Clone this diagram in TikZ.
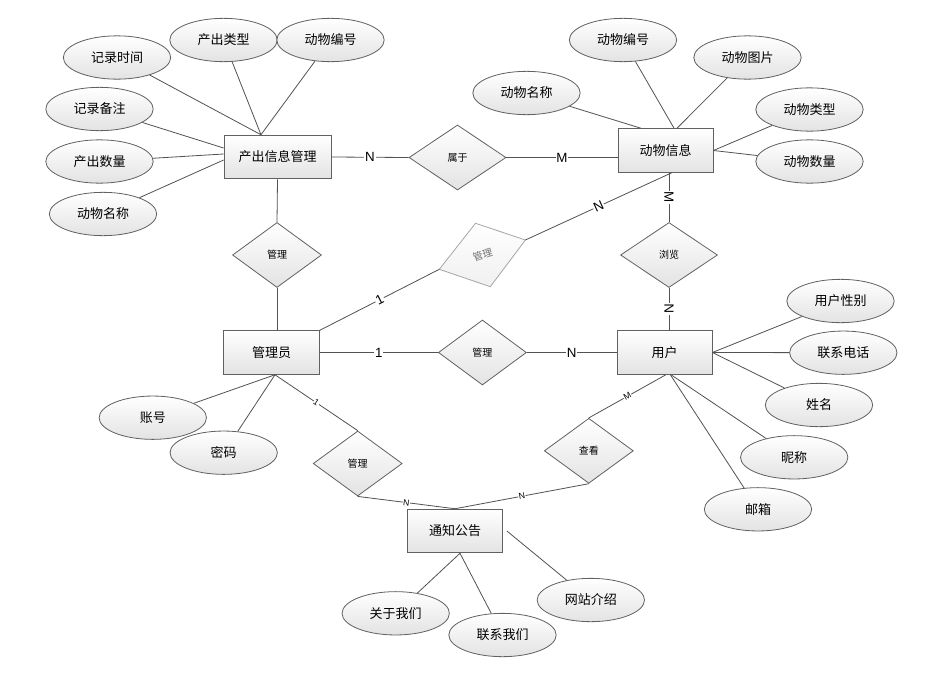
\documentclass[tikz,border=0pt]{standalone}
\usepackage{fontspec}
\setmainfont{Liberation Sans}
\newfontfamily\cjk{Noto Sans CJK SC}
\usetikzlibrary{shapes.geometric,shadows}
\begin{document}
\begin{tikzpicture}[x=0.75pt,y=-0.75pt,
 base/.style={draw=black!62, line width=0.6pt, top color=white, bottom color=black!11, inner sep=0pt},
 attr/.style={base, ellipse, minimum width=80.5pt, minimum height=32.5pt, font=\cjk\fontsize{9.75}{11}\selectfont},
 ent/.style={base, rectangle, minimum height=32.8pt, font=\cjk\fontsize{9.75}{11}\selectfont},
 rel/.style={base, diamond, minimum height=48.75pt, font=\cjk\fontsize{7.5}{9}\selectfont},
 conn/.style={draw=black!68, line width=0.6pt},
 lbl/.style={fill=white, inner sep=0.6pt, font=\fontsize{10}{10}\selectfont},
 slbl/.style={fill=white, inner sep=0.4pt, font=\fontsize{6.5}{7}\selectfont}]
\useasboundingbox[fill=white] (0,0) rectangle (930,678);

% entities
\node[ent, minimum width=80.25pt] (cx) at (277.5,157) {产出信息管理};
\node[ent, minimum width=71.25pt] (dw) at (665.5,150.5) {动物信息};
\node[ent, minimum width=72pt] (gly) at (271.5,352.5) {管理员};
\node[ent, minimum width=71.25pt] (yh) at (664.5,352.5) {用户};
\node[ent, minimum width=71.25pt] (tz) at (455,531) {通知公告};

% relationships
\node[rel, minimum width=72.75pt] (sy) at (457.5,157.5) {属于};
\node[rel, minimum width=66.75pt] (gl1) at (277,255) {管理};
\node[rel, minimum width=72.75pt] (ll) at (669,255) {浏览};
\node[rel, minimum width=66pt] (gl3) at (482.4,352.5) {管理};
\node[rel, minimum width=66.75pt] (gl4) at (357.7,463.5) {管理};
\node[rel, minimum width=66.75pt] (ck) at (588.8,450.8) {查看};

% rotated relationship
\coordinate (g2l) at (439.3,269.3);
\coordinate (g2t) at (475.5,223.3);
\coordinate (g2r) at (525.4,240);
\coordinate (g2b) at (490.3,286.7);
\draw[draw=black!35, line width=0.6pt, top color=white, bottom color=black!6] (g2l) -- (g2t) -- (g2r) -- (g2b) -- cycle;
\node[rotate=18, text=black!55, font=\cjk\fontsize{7.5}{9}\selectfont] (gl2) at (482.6,255) {管理};

% attributes
\node[attr] (jlsj) at (117,57.5) {记录时间};
\node[attr] (cclx) at (223.5,40) {产出类型};
\node[attr] (dwbh1) at (330.5,40) {动物编号};
\node[attr] (jlbz) at (99.5,109) {记录备注};
\node[attr] (ccsl) at (99.5,161.5) {产出数量};
\node[attr] (dwmc1) at (103,214) {动物名称};
\node[attr] (dwbh2) at (623,40) {动物编号};
\node[attr] (dwtp) at (747.5,57.5) {动物图片};
\node[attr] (dwmc2) at (526.5,93) {动物名称};
\node[attr] (dwlx) at (809.5,109.5) {动物类型};
\node[attr] (dwsl) at (809.5,161.5) {动物数量};
\node[attr] (yhxb) at (840.5,301) {用户性别};
\node[attr] (lxdh) at (843.3,352.7) {联系电话};
\node[attr] (xm) at (819,405) {姓名};
\node[attr] (nc) at (794.2,457.3) {昵称};
\node[attr] (yx) at (758,509.3) {邮箱};
\node[attr] (zh) at (152.8,417.7) {账号};
\node[attr] (mm) at (223.7,452.7) {密码};
\node[attr] (gywm) at (395.7,613.3) {关于我们};
\node[attr] (lxwm) at (502.5,635) {联系我们};
\node[attr] (wzjs) at (590.8,600) {网站介绍};

% attribute connectors
\draw[conn] (jlsj) -- ([xshift=-12.4pt]cx.north);
\draw[conn] (cclx) -- ([xshift=-12.4pt]cx.north);
\draw[conn] (dwbh1) -- ([xshift=-12.4pt]cx.north);
\draw[conn] (jlbz) -- ([yshift=6.75pt]cx.west);
\draw[conn] (ccsl) -- ([yshift=2.25pt]cx.west);
\draw[conn] (dwmc1) -- ([yshift=-2.25pt]cx.west);

\draw[conn] (dwmc2) -- ([xshift=-18.4pt]dw.north);
\draw[conn] (dwbh2) -- ([xshift=6.4pt]dw.north);
\draw[conn] (dwtp) -- ([xshift=8.6pt]dw.north);
\draw[conn] (dwlx) -- (dw.east);
\draw[conn] (dwsl) -- (dw.east);

\draw[conn] (yhxb) -- (yh.east);
\draw[conn] (lxdh) -- (yh.east);
\draw[conn] (xm) -- (yh.east);
\draw[conn] (nc) -- ([xshift=4.9pt]yh.south);
\draw[conn] (yx) -- ([xshift=4.4pt]yh.south);

\draw[conn] (zh) -- ([xshift=2.6pt]gly.south);
\draw[conn] (mm) -- ([xshift=2.6pt]gly.south);

\draw[conn] (gywm) -- ([xshift=3.75pt]tz.south);
\draw[conn] (lxwm) -- ([xshift=3.75pt]tz.south);
\draw[conn] (wzjs) -- ([xshift=3pt]tz.east);

% relationship connectors
\draw[conn] (cx.east) -- node[lbl] {N} (sy.west);
\draw[conn] (sy.east) -- node[lbl] {M} (sy.east -| dw.west);
\draw[conn] (cx.south) -- (gl1.north);
\draw[conn] (gl1.south) -- (gl1.south |- gly.north);
\draw[conn] (gly.north east) -- node[lbl, sloped] {1} (g2l);
\draw[conn] (g2r) -- node[lbl, sloped] {N} ([xshift=4.65pt]dw.south);
\draw[conn] (ll.north |- dw.south) -- node[lbl, rotate=-90] {M} (ll.north);
\draw[conn] (ll.south) -- node[lbl, rotate=90] {N} (ll.south |- yh.north);
\draw[conn] (gly.east) -- node[lbl] {1} (gl3.west);
\draw[conn] (gl3.east) -- node[lbl] {N} (gl3.east -| yh.west);
\draw[conn] ([xshift=2.6pt]gly.south) -- node[slbl, sloped] {1} (gl4.north);
\draw[conn] (gl4.south) -- node[slbl, sloped] {N} (tz.north);
\draw[conn] ([xshift=1pt]yh.south) -- node[slbl, sloped] {M} (ck.north);
\draw[conn] (ck.south) -- node[slbl, sloped] {N} (tz.north);
\end{tikzpicture}
\end{document}
